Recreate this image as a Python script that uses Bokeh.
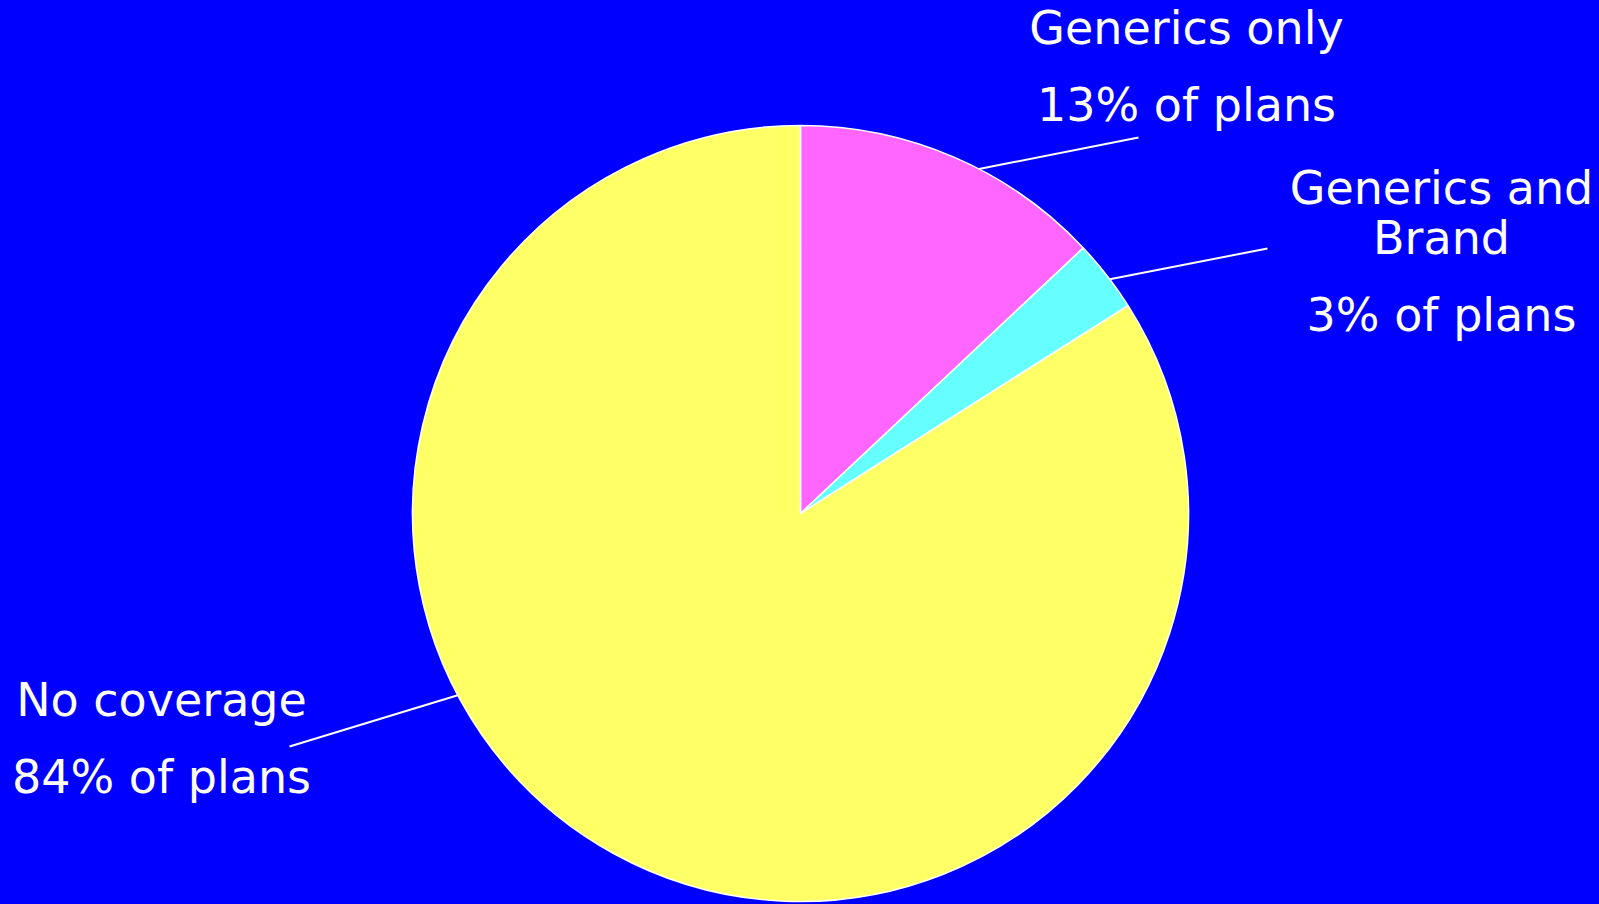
import math
from bokeh.plotting import figure
from bokeh.models import Range1d, ColumnDataSource
from bokeh.core.properties import value
from bokeh.embed import file_html
from bokeh.resources import INLINE

# ---- data ----
categories = ["Generics only", "Generics and Brand", "No coverage"]
shares = [13, 3, 84]
label_lines = [["Generics only", "13% of plans"],
               ["Generics and", "Brand", "3% of plans"],
               ["No coverage", "84% of plans"]]
colors = ["#FF66FF", "#66FFFF", "#FFFF66"]

# ---- layout (page pixel coordinates; data y = PAGE_H - page_y) ----
PAGE_W, PAGE_H = 1599, 904
W, H = PAGE_W, PAGE_H
BG = "#0000FF"

def Y(py):
    return PAGE_H - py

cx, cy, R = 800, Y(513), 388
leader_frac = [0.585, 0.56, 0.61]
leader_end = [(1138, 137), (1267, 248), (289, 746)]
label_x = [1186, 1441, 161]
TEXT_SHIFT = 16
label_baselines = [[43, 120], [203, 253, 330], [715, 792]]

p = figure(width=W, height=H, output_backend="svg", toolbar_location=None,
           x_range=Range1d(0, PAGE_W), y_range=Range1d(0, PAGE_H),
           min_border=0, background_fill_color=BG, border_fill_color=BG)
p.axis.visible = False
p.grid.visible = False
p.outline_line_color = None

total = float(sum(shares))
starts, ends = [], []
a = math.pi / 2
for s in shares:
    starts.append(a)
    a = a - 2 * math.pi * s / total
    ends.append(a)

src = ColumnDataSource(dict(start=starts, end=ends, color=colors, cat=categories))
p.wedge(x=cx, y=cy, radius=R, start_angle="start", end_angle="end",
        direction="clock", fill_color="color", line_color="white",
        line_width=1.5, source=src)

# leader lines
xs, ys = [], []
for i in range(len(shares)):
    ang = starts[i] + (ends[i] - starts[i]) * leader_frac[i]
    x0 = cx + R * math.cos(ang)
    y0 = cy + R * math.sin(ang)
    ex, ey = leader_end[i]
    xs.append([x0, ex])
    ys.append([y0, Y(ey)])
p.multi_line(xs=xs, ys=ys, line_color="white", line_width=2)

# labels
tx, ty, tt = [], [], []
for i, lines in enumerate(label_lines):
    for line, b in zip(lines, label_baselines[i]):
        tx.append(label_x[i])
        ty.append(Y(b - TEXT_SHIFT))
        tt.append(line)
p.text(x=tx, y=ty, text=tt, text_color="white", text_align="center",
       text_baseline="alphabetic", text_font=value("DejaVu Sans"),
       text_font_size="46px")

html = file_html(p, INLINE)
html = html.replace("</head>",
                    "<style>html, body { background-color: #0000FF; }</style></head>", 1)
open("out.html", "w").write(html)
